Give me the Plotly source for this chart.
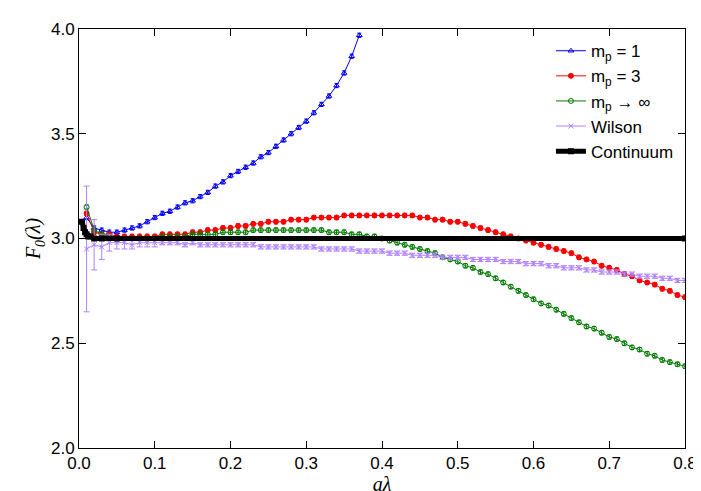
import plotly.graph_objects as go

x_step = [round(0.01 * i, 2) for i in range(1, 81)]

mp1_y = [3.10, 3.05, 3.04, 3.03, 3.03, 3.04, 3.05, 3.06, 3.08, 3.10,
         3.12, 3.13, 3.15, 3.17, 3.18, 3.20, 3.22, 3.25, 3.27, 3.30,
         3.32, 3.34, 3.36, 3.39, 3.41, 3.44, 3.47, 3.50, 3.53, 3.56,
         3.60, 3.64, 3.68, 3.73, 3.79, 3.87, 3.97]

mp3_y = [3.12, 3.03, 3.02, 3.02, 3.01, 3.01, 3.01, 3.01, 3.01, 3.01,
         3.02, 3.02, 3.02, 3.02, 3.03, 3.03, 3.04, 3.04, 3.05, 3.05,
         3.06, 3.06, 3.07, 3.07, 3.08, 3.08, 3.08, 3.09, 3.09, 3.09,
         3.10, 3.10, 3.10, 3.10, 3.11, 3.11, 3.11, 3.11, 3.11, 3.11,
         3.11, 3.11, 3.11, 3.11, 3.10, 3.10, 3.09, 3.09, 3.08, 3.08,
         3.07, 3.06, 3.05, 3.04, 3.03, 3.02, 3.01, 3.00, 2.99, 2.98,
         2.97, 2.96, 2.95, 2.94, 2.93, 2.91, 2.90, 2.89, 2.87, 2.86,
         2.85, 2.83, 2.82, 2.80, 2.79, 2.78, 2.76, 2.75, 2.73, 2.72]

mpinf_y = [3.15, 3.04, 3.02, 3.01, 3.00, 3.00, 3.00, 3.00, 3.00, 3.00,
           3.01, 3.01, 3.01, 3.01, 3.02, 3.02, 3.02, 3.02, 3.03, 3.03,
           3.03, 3.03, 3.04, 3.04, 3.04, 3.04, 3.04, 3.04, 3.04, 3.04,
           3.04, 3.04, 3.03, 3.03, 3.03, 3.02, 3.02, 3.01, 3.01, 3.00,
           2.99, 2.98, 2.97, 2.96, 2.95, 2.94, 2.93, 2.91, 2.90, 2.89,
           2.87, 2.86, 2.84, 2.83, 2.81, 2.79, 2.77, 2.75, 2.73, 2.71,
           2.69, 2.68, 2.66, 2.64, 2.62, 2.60, 2.58, 2.57, 2.55, 2.53,
           2.52, 2.50, 2.48, 2.47, 2.45, 2.44, 2.42, 2.41, 2.40, 2.39]

wilson_y = [2.95, 2.97, 2.96, 2.98, 2.98, 2.98, 2.97, 2.98, 2.98, 2.98,
            2.98, 2.98, 2.98, 2.97, 2.98, 2.97, 2.97, 2.97, 2.97, 2.97,
            2.97, 2.97, 2.97, 2.96, 2.96, 2.96, 2.96, 2.96, 2.96, 2.96,
            2.96, 2.95, 2.95, 2.95, 2.95, 2.95, 2.94, 2.94, 2.94, 2.94,
            2.93, 2.93, 2.93, 2.92, 2.92, 2.92, 2.92, 2.91, 2.91, 2.91,
            2.91, 2.90, 2.90, 2.90, 2.90, 2.89, 2.89, 2.89, 2.88, 2.88,
            2.88, 2.87, 2.87, 2.86, 2.86, 2.86, 2.85, 2.85, 2.84, 2.84,
            2.84, 2.83, 2.83, 2.82, 2.82, 2.82, 2.81, 2.81, 2.80, 2.80]
wilson_err = [0.30, 0.12, 0.06, 0.04, 0.03, 0.03, 0.02, 0.02, 0.02, 0.02] + [0.01] * 70

cont_x = [0.004, 0.006, 0.008, 0.01, 0.012, 0.015, 0.02, 0.03, 0.05, 0.8]
cont_y = [3.08, 3.05, 3.03, 3.02, 3.01, 3.01, 3.00, 3.00, 3.00, 3.00]

series = [
    ("m<sub>p</sub> = 1", x_step[:len(mp1_y)], mp1_y, "#0000ff", "triangle-up-open"),
    ("m<sub>p</sub> = 3", x_step, mp3_y, "#ff0000", "circle"),
    ("m<sub>p</sub> → ∞", x_step, mpinf_y, "#007a00", "circle-open"),
]

fig = go.Figure()
for name, xs, ys, col, sym in series:
    fig.add_trace(go.Scatter(
        x=xs, y=ys, name=name, mode="lines+markers",
        line=dict(color=col, width=1),
        marker=dict(symbol=sym, size=5, color=col, line=dict(color=col, width=1)),
        error_y=dict(type="constant", value=0.01, color=col, thickness=1, width=2),
    ))

fig.add_trace(go.Scatter(
    x=x_step, y=wilson_y, name="Wilson", mode="lines+markers",
    line=dict(color="#b080ff", width=1),
    marker=dict(symbol="x-thin", size=5, color="#b080ff", line=dict(color="#b080ff", width=1)),
    error_y=dict(type="data", array=wilson_err, color="#b080ff", thickness=1, width=3),
))

fig.add_trace(go.Scatter(
    x=cont_x, y=cont_y, name="Continuum", mode="lines+markers",
    line=dict(color="black", width=5),
    marker=dict(symbol="square", size=6, color="black"),
))

axis = dict(showline=True, linecolor="black", mirror="ticks", ticks="inside",
            ticklen=7, tickcolor="black", showgrid=False, zeroline=False,
            tickfont=dict(family="Liberation Sans", size=17, color="black"))
fig.update_xaxes(range=[0, 0.8], dtick=0.1, tickformat=".1f",
                 title=dict(text="<i>aλ</i>", font=dict(family="Liberation Serif", size=20, color="black"), standoff=0),
                 **axis)
fig.update_yaxes(range=[2.0, 4.0], dtick=0.5, tickformat=".1f",
                 title=dict(text="<i>F<sub>0</sub>(λ)</i>", font=dict(family="Liberation Serif", size=20, color="black"), standoff=4),
                 **axis)
fig.update_layout(
    width=701, height=491, plot_bgcolor="white", paper_bgcolor="white",
    margin=dict(l=71, r=24, t=13, b=47),
    legend=dict(x=0.99, y=0.99, xanchor="right", yanchor="top", tracegroupgap=6,
                bgcolor="rgba(0,0,0,0)", font=dict(family="Liberation Sans", size=17, color="black")),
)
fig.write_html("out.html")
